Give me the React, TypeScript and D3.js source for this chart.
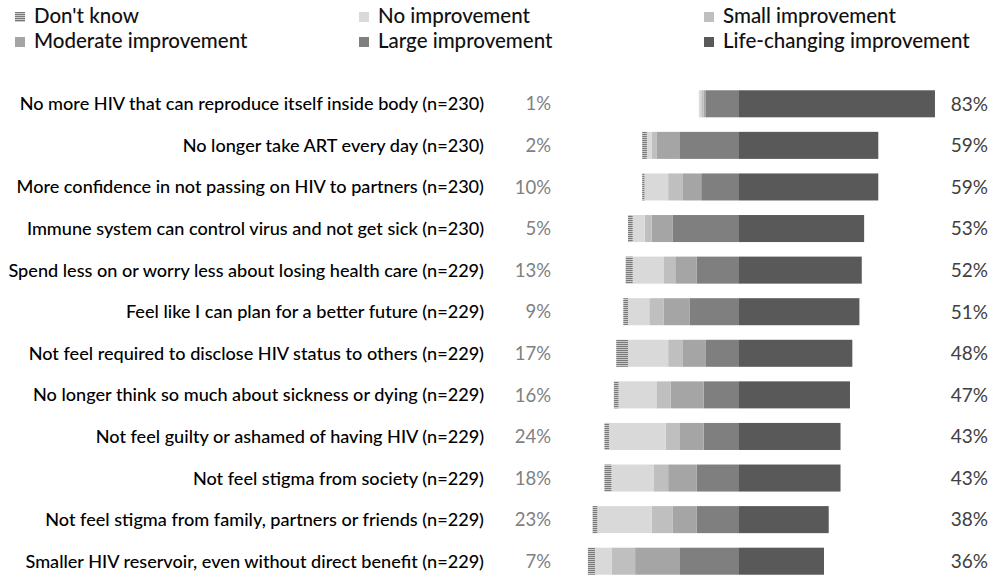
import React from "react";
import * as d3 from "d3";

const categories = [
  "No more HIV that can reproduce itself inside body (n=230)",
  "No longer take ART every day (n=230)",
  "More confidence in not passing on HIV to partners (n=230)",
  "Immune system can control virus and not get sick (n=230)",
  "Spend less on or worry less about losing health care (n=229)",
  "Feel like I can plan for a better future (n=229)",
  "Not feel required to disclose HIV status to others (n=229)",
  "No longer think so much about sickness or dying (n=229)",
  "Not feel guilty or ashamed of having HIV (n=229)",
  "Not feel stigma from society (n=229)",
  "Not feel stigma from family, partners or friends (n=229)",
  "Smaller HIV reservoir, even without direct benefit (n=229)",
];

const dontKnow = [0, 2, 1, 2, 3, 2, 5, 2, 2, 3, 2, 3];
const noImprovement = [1, 2, 10, 5, 13, 9, 17, 16, 24, 18, 23, 7];
const smallImprovement = [1, 2, 6, 3, 5, 6, 6, 6, 6, 6, 9, 10];
const moderateImprovement = [1, 10, 8, 9, 9, 11, 10, 14, 10, 12, 10, 19];
const largeImprovement = [14, 25, 16, 28, 18, 21, 14, 15, 15, 18, 18, 25];
const lifeChanging = [83, 59, 59, 53, 52, 51, 48, 47, 43, 43, 38, 36];

const seriesNames = [
  "Don't know",
  "No improvement",
  "Small improvement",
  "Moderate improvement",
  "Large improvement",
  "Life-changing improvement",
];

const colors = ["url(#dkPattern)", "#d9d9d9", "#bfbfbf", "#a5a5a5", "#7f7f7f", "#595959"];

export default function App() {
  const width = 991;
  const height = 577;
  const center = 739;
  const pxPerPct = 2.361;
  const x = d3
    .scaleLinear()
    .domain([-100, 100])
    .range([center - 100 * pxPerPct, center + 100 * pxPerPct]);
  const y = d3
    .scaleBand<string>()
    .domain(categories)
    .range([83, 582])
    .paddingInner(0.35)
    .paddingOuter(0.175);

  const leftSeries = [largeImprovement, moderateImprovement, smallImprovement, noImprovement, dontKnow];
  const leftColors = [colors[4], colors[3], colors[2], colors[1], colors[0]];

  const labelFont = "Lato, 'Open Sans', sans-serif";

  const legendItems = [
    { name: seriesNames[0], color: colors[0], col: 0, row: 0 },
    { name: seriesNames[1], color: colors[1], col: 1, row: 0 },
    { name: seriesNames[2], color: colors[2], col: 2, row: 0 },
    { name: seriesNames[3], color: colors[3], col: 0, row: 1 },
    { name: seriesNames[4], color: colors[4], col: 1, row: 1 },
    { name: seriesNames[5], color: colors[5], col: 2, row: 1 },
  ];
  const legendX = [15, 359, 704];
  const legendY = [12, 37];

  return (
    <svg
      width={width}
      height={height}
      style={{ position: "absolute", left: 0, top: 0, background: "#fff" }}
      fontFamily={labelFont}
    >
      <defs>
        <pattern id="dkPattern" width="4" height="2" patternUnits="userSpaceOnUse">
          <rect width="4" height="2" fill="#c8c8c8" />
          <rect width="4" height="1" fill="#7a7a7a" />
        </pattern>
      </defs>
      <rect width={width} height={height} fill="#fff" />

      {legendItems.map((it) => (
        <g key={it.name}>
          <rect
            x={legendX[it.col]}
            y={legendY[it.row]}
            width={10}
            height={10}
            fill={it.color}
          />
          <text
            x={legendX[it.col] + 19}
            y={legendY[it.row] + 11}
            fontSize={20.5}
            fontWeight={500}
            fill="#111"
          >
            {it.name}
          </text>
        </g>
      ))}

      {categories.map((c, i) => {
        const yy = y(c) as number;
        const bh = y.bandwidth();
        const rects: React.ReactNode[] = [];
        let cum = 0;
        leftSeries.forEach((s, k) => {
          const v = s[i];
          if (v > 0) {
            rects.push(
              <rect
                key={"l" + k}
                x={x(-(cum + v))}
                y={yy}
                width={x(-cum) - x(-(cum + v))}
                height={bh}
                fill={leftColors[k]}
              />
            );
          }
          cum += v;
        });
        rects.push(
          <rect
            key="r"
            x={x(0)}
            y={yy}
            width={x(lifeChanging[i]) - x(0)}
            height={bh}
            fill={colors[5]}
          />
        );
        const cy = yy + bh / 2;
        return (
          <g key={c}>
            <text
              x={484}
              y={cy}
              dy="0.36em"
              textAnchor="end"
              fontSize={18.1}
              fontWeight={500}
              fill="#000"
            >
              {c}
            </text>
            <text
              x={551}
              y={cy}
              dy="0.36em"
              textAnchor="end"
              fontSize={18.5}
              fill="#808080"
            >
              {noImprovement[i]}%
            </text>
            {rects}
            <text
              x={988}
              y={cy}
              dy="0.36em"
              textAnchor="end"
              fontSize={19}
              fill="#404040"
            >
              {lifeChanging[i]}%
            </text>
          </g>
        );
      })}
    </svg>
  );
}
